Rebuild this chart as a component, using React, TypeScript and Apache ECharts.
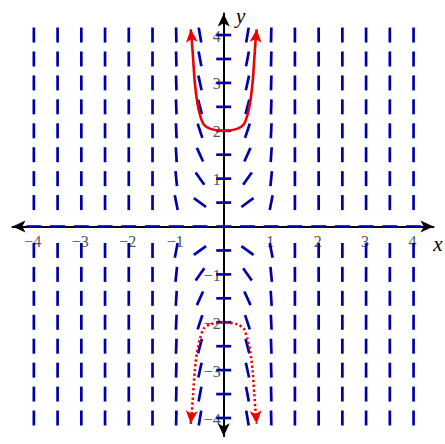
import React, { useEffect, useRef } from "react";
import * as echarts from "echarts";

// grid points of the slope field
const FIELD_X = [-4, -3.5, -3, -2.5, -2, -1.5, -1, -0.5, 0, 0.5, 1, 1.5, 2, 2.5, 3, 3.5, 4];
const FIELD_Y = [-4, -3.5, -3, -2.5, -2, -1.5, -1, -0.5, 0, 0.5, 1, 1.5, 2, 2.5, 3, 3.5, 4];
// |y| rows (0.5 .. 4) and read slopes (magnitude) in the columns |x| = 0.5 and |x| = 1
const ROW_ABS_Y = [0.5, 1, 1.5, 2, 2.5, 3, 3.5, 4];
const SLOPE_COL_HALF = [0.72, 1.4, 2.2, 3.0, 3.8, 4.5, 5.2, 5.9];
const SLOPE_COL_ONE = [5, 10, 16, 22, 28, 34, 40, 46];

const X_TICKS = [-4, -3, -2, -1, 1, 2, 3, 4];
const Y_TICKS = [-4, -3, -2, -1, 1, 2, 3, 4];

// solution curves
const UPPER_X = [-0.695, -0.67, -0.645, -0.61, -0.56, -0.5, -0.42, -0.28, 0, 0.28, 0.42, 0.5, 0.56, 0.61, 0.645, 0.67, 0.695];
const UPPER_Y = [4.12, 3.86, 3.51, 3.02, 2.61, 2.33, 2.13, 2.04, 2.0, 2.04, 2.13, 2.33, 2.61, 3.02, 3.51, 3.86, 4.12];
const LOWER_X = [-0.695, -0.67, -0.645, -0.61, -0.56, -0.5, -0.42, -0.28, 0, 0.28, 0.42, 0.5, 0.56, 0.61, 0.645, 0.67, 0.695];
const LOWER_Y = [-4.12, -3.86, -3.51, -3.02, -2.61, -2.35, -2.13, -2.04, -2.0, -2.04, -2.13, -2.35, -2.61, -3.02, -3.51, -3.86, -4.12];

const X_MIN = -4.45;
const X_MAX = 4.42;
const Y_MIN = -4.38;
const Y_MAX = 4.45;

const BLUE = "#0000aa";
const RED = "#ee0000";
const SERIF = "Liberation Serif";
const LABEL_COLOR = "#555555";

function fmt(v: number): string {
  if (v === 0) return "";
  return v < 0 ? "\u2212" + String(-v) : String(v);
}

function slopeAt(x: number, y: number): number {
  if (x === 0 || y === 0) return 0;
  const ax = Math.abs(x);
  const ay = Math.abs(y);
  const idx = ROW_ABS_Y.indexOf(ay);
  const sign = Math.sign(x) * Math.sign(y);
  if (ax === 0.5) return sign * SLOPE_COL_HALF[idx];
  if (ax === 1) return sign * SLOPE_COL_ONE[idx];
  return sign * Infinity;
}

function curveData(xs: number[], ys: number[], rotLeft: number, rotRight: number) {
  return xs.map((x, i) => {
    if (i === 0) return { value: [x, ys[i]], symbol: "arrow", symbolSize: [9, 13], symbolRotate: rotLeft };
    if (i === xs.length - 1) return { value: [x, ys[i]], symbol: "arrow", symbolSize: [9, 13], symbolRotate: rotRight };
    return { value: [x, ys[i]], symbol: "none" };
  });
}

export default function App() {
  const ref = useRef<HTMLDivElement>(null);
  useEffect(() => {
    if (!ref.current) return;
    const chart = echarts.init(ref.current, undefined, { renderer: "svg" });
    const field: number[][] = [];
    FIELD_X.forEach((x) => FIELD_Y.forEach((y) => field.push([x, y, slopeAt(x, y)])));
    const tickLabels: number[][] = [];
    X_TICKS.forEach((x) => tickLabels.push([x, 0, 0]));
    Y_TICKS.forEach((y) => tickLabels.push([0, y, 1]));

    const axisLine = {
      onZero: true,
      symbol: ["arrow", "arrow"],
      symbolSize: [9, 13],
      lineStyle: { color: "#000", width: 2 },
    };

    chart.setOption({
      animation: false,
      grid: { left: 12.5, right: 11.5, top: 13.5, bottom: 7.8, containLabel: false, outerBoundsMode: "none" },
      xAxis: {
        type: "value",
        min: X_MIN,
        max: X_MAX,
        axisLine,
        axisTick: { show: false },
        splitLine: { show: false },
        axisLabel: { show: false },
      },
      yAxis: {
        type: "value",
        min: Y_MIN,
        max: Y_MAX,
        axisLine,
        axisTick: { show: false },
        splitLine: { show: false },
        axisLabel: { show: false },
      },
      series: [
        {
          type: "custom",
          coordinateSystem: "cartesian2d",
          data: tickLabels,
          z: 1,
          silent: true,
          renderItem: (params: any, api: any) => {
            const v0 = api.value(0);
            const v1 = api.value(1);
            const c = api.coord([v0, v1]);
            const isX = api.value(2) === 0;
            return {
              type: "text",
              x: isX ? c[0] - 1 : c[0] - 3,
              y: isX ? c[1] + 15 : c[1] + 1,
              style: {
                text: fmt(isX ? v0 : v1),
                fill: LABEL_COLOR,
                font: "16px '" + SERIF + "'",
                align: isX ? "center" : "right",
                verticalAlign: "middle",
              },
            };
          },
        },
        {
          type: "custom",
          coordinateSystem: "cartesian2d",
          data: field,
          z: 2,
          silent: true,
          renderItem: (params: any, api: any) => {
            const c = api.coord([api.value(0), api.value(1)]);
            const unit = api.size([1, 1]);
            const s = api.value(2);
            let dx: number;
            let dy: number;
            if (!isFinite(s)) {
              dx = 0;
              dy = 1;
            } else {
              dx = unit[0];
              dy = -s * unit[1];
            }
            const n = Math.sqrt(dx * dx + dy * dy);
            const h = 7.5;
            dx = (dx / n) * h;
            dy = (dy / n) * h;
            return {
              type: "line",
              shape: { x1: c[0] - dx, y1: c[1] - dy, x2: c[0] + dx, y2: c[1] + dy },
              style: { stroke: BLUE, lineWidth: 2.7, lineCap: "butt" },
            };
          },
        },
        {
          type: "line",
          data: curveData(UPPER_X, UPPER_Y, 5, -5),
          smooth: 0.25,
          showSymbol: true,
          showAllSymbol: true,
          z: 5,
          silent: true,
          lineStyle: { color: RED, width: 2.6 },
          itemStyle: { color: RED, borderWidth: 0 },
        },
        {
          type: "line",
          data: curveData(LOWER_X, LOWER_Y, 175, 185),
          smooth: 0.25,
          showSymbol: true,
          showAllSymbol: true,
          z: 5,
          silent: true,
          lineStyle: { color: RED, width: 2.6, type: [2.2, 2.6] },
          itemStyle: { color: RED, borderWidth: 0 },
        },
      ],
    });

    const xEnd = chart.convertToPixel({ gridIndex: 0 }, [X_MAX, 0]) as number[];
    const yEnd = chart.convertToPixel({ gridIndex: 0 }, [0, Y_MAX]) as number[];
    chart.setOption({
      graphic: [
        {
          type: "text",
          x: xEnd[0] + 4.5,
          y: xEnd[1] + 17,
          style: { text: "x", font: "italic 21px '" + SERIF + "'", fill: "#000", align: "center", verticalAlign: "middle" },
        },
        {
          type: "text",
          x: yEnd[0] + 17,
          y: yEnd[1] + 2,
          style: { text: "y", font: "italic 21px '" + SERIF + "'", fill: "#000", align: "center", verticalAlign: "middle" },
        },
      ],
    });

    return () => chart.dispose();
  }, []);
  return <div ref={ref} style={{ position: "absolute", left: 0, top: 0, width: 445, height: 444 }} />;
}
